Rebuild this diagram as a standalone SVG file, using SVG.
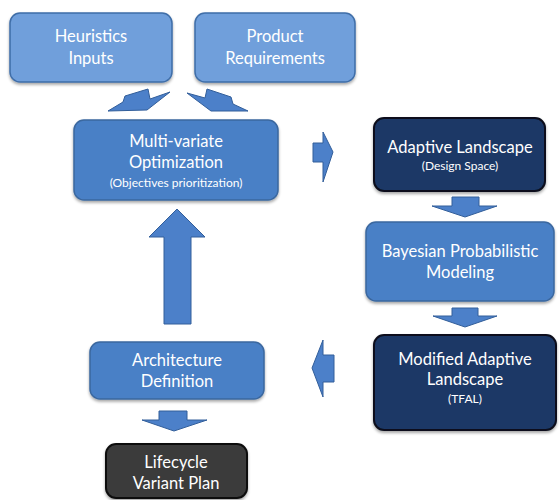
<svg xmlns="http://www.w3.org/2000/svg" width="560" height="500" viewBox="0 0 560 500">
<defs>
<filter id="sh" x="-10%" y="-10%" width="120%" height="130%">
<feGaussianBlur in="SourceAlpha" stdDeviation="1.5"/>
<feOffset dx="0" dy="2" result="b"/>
<feComponentTransfer><feFuncA type="linear" slope="0.35"/></feComponentTransfer>
<feMerge><feMergeNode/><feMergeNode in="SourceGraphic"/></feMerge>
</filter>
</defs>
<style>
.light{fill:#6f9fdb;stroke:#3f6ea8;stroke-width:1.5;filter:url(#sh)}
.mid{fill:#4a80c6;stroke:#3a679f;stroke-width:1.5;filter:url(#sh)}
.dark{fill:#1b3766;stroke:#0a0f1c;stroke-width:2;filter:url(#sh)}
.gray{fill:#3b3b3b;stroke:#111111;stroke-width:2;filter:url(#sh)}
.arrow{fill:#4c80c9;stroke:#325e9a;stroke-width:1}
text{font-family:Lato,"Open Sans","Liberation Sans",sans-serif;fill:#ffffff;text-anchor:middle}
.t{font-size:16.5px}
.s{font-size:12px}
</style>
<rect width="560" height="500" fill="#ffffff"/>
<g id="connectors">
<polygon class="arrow" points="108,111 123,102 125,96 148,89 150,99 170,92 147,110"/>
<polygon class="arrow" points="248,111 233,104 231,97 207,89 205,98 187,93 211,111"/>
<polygon class="arrow" points="313,143 323,143 323,132 333,152 323,182 323,162 313,162"/>
<polygon class="arrow" points="452,197 479,197 479,206 497,206 465,217 432,206 452,206"/>
<polygon class="arrow" points="452,308 478,308 478,316 497,316 465,327 433,316 452,316"/>
<polygon class="arrow" points="334,355 334,382 323,382 323,397 312,368 323,340 323,355"/>
<polygon class="arrow" points="164,324 191,324 191,237 205,237 177,209 149,237 164,237"/>
<polygon class="arrow" points="159,411 187,411 187,420 207,420 174,431 142,420 159,420"/>
</g>
<g id="heuristics">
<rect class="light" x="10" y="13" width="162" height="69" rx="10"/>
<text class="t" x="91" y="42">Heuristics</text>
<text class="t" x="91" y="64">Inputs</text>
</g>
<g id="product">
<rect class="light" x="195" y="13" width="160" height="69" rx="10"/>
<text class="t" x="275" y="42">Product</text>
<text class="t" x="275" y="64">Requirements</text>
</g>
<g id="optimization">
<rect class="mid" x="74" y="120" width="204" height="80" rx="10"/>
<text class="t" x="176" y="147">Multi-variate</text>
<text class="t" x="176" y="168">Optimization</text>
<text class="s" x="176" y="187">(Objectives prioritization)</text>
</g>
<g id="adaptive">
<rect class="dark" x="374" y="118" width="171" height="73" rx="10"/>
<text class="t" x="460" y="153">Adaptive Landscape</text>
<text class="s" x="460" y="170">(Design Space)</text>
</g>
<g id="bayesian">
<rect class="mid" x="366" y="222" width="188" height="79" rx="10"/>
<text class="t" x="460" y="257">Bayesian Probabilistic</text>
<text class="t" x="460" y="278">Modeling</text>
</g>
<g id="modified">
<rect class="dark" x="374" y="335" width="182" height="95" rx="10"/>
<text class="t" x="465" y="365">Modified Adaptive</text>
<text class="t" x="465" y="385">Landscape</text>
<text class="s" x="465" y="403">(TFAL)</text>
</g>
<g id="architecture">
<rect class="mid" x="90" y="342" width="174" height="57" rx="10"/>
<text class="t" x="177" y="366">Architecture</text>
<text class="t" x="177" y="387">Definition</text>
</g>
<g id="lifecycle">
<rect class="gray" x="106" y="444" width="141" height="54" rx="10"/>
<text class="t" x="176" y="468">Lifecycle</text>
<text class="t" x="176" y="489">Variant Plan</text>
</g>
</svg>
